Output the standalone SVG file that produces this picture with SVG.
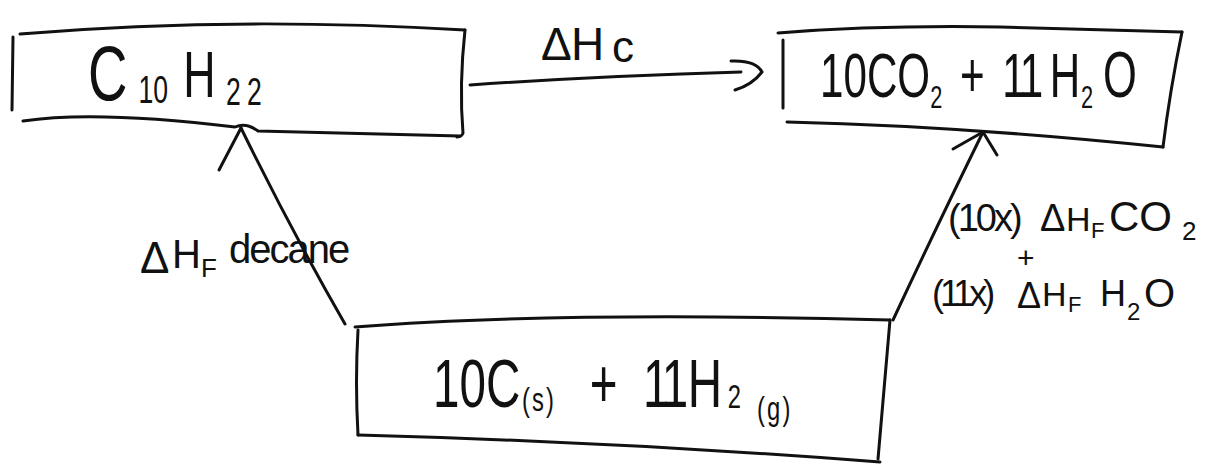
<svg xmlns="http://www.w3.org/2000/svg" width="1207" height="466" viewBox="0 0 1207 466">
  <style>
    .ink { fill: none; stroke: #111; stroke-width: 3; stroke-linecap: round; stroke-linejoin: round; }
    .lbl { font-family: "Liberation Sans", Arial, sans-serif; fill: #111; }
  </style>
  <rect x="0" y="0" width="1207" height="466" fill="#ffffff"/>

  <g id="connectors">
    <g id="edge-combustion">
      <path class="ink" d="M470,85 Q600,76 741,72"/>
      <path class="ink" d="M731,61 Q756,60 762,72 Q752,85 735,90"/>
      <text class="lbl" y="60" font-size="46"><tspan x="541">Δ</tspan><tspan x="571">H</tspan><tspan x="612" y="62" font-size="44">c</tspan></text>
    </g>
    <g id="edge-formation-decane">
      <path class="ink" d="M345,324 Q292,232 241,128"/>
      <path class="ink" d="M241,128 L219,170"/>
      <text class="lbl" font-size="40"><tspan x="140" y="273" font-size="44">Δ</tspan><tspan x="172" y="268">H</tspan><tspan x="201" y="277" font-size="26">F </tspan><tspan x="229" y="263" letter-spacing="-2">decane</tspan></text>
    </g>
    <g id="edge-formation-products">
      <path class="ink" d="M893,320 Q935,230 983,132"/>
      <path class="ink" d="M953,149 L983,132 L997,155"/>
      <text class="lbl" font-size="38"><tspan x="948" y="231" letter-spacing="-3">(10x) </tspan><tspan x="1040" y="231">Δ</tspan><tspan x="1066" y="231" font-size="34">H</tspan><tspan x="1091" y="238" font-size="22">F </tspan><tspan x="1109" y="231" font-size="42">CO</tspan><tspan x="1182" y="240" font-size="26">2</tspan></text>
      <text class="lbl" x="1017" y="268" font-size="30">+</text>
      <text class="lbl" font-size="36"><tspan x="932" y="306" letter-spacing="-4">(11x) </tspan><tspan x="1017" y="308">Δ</tspan><tspan x="1042" y="306" font-size="34">H</tspan><tspan x="1068" y="312" font-size="22">F </tspan><tspan x="1100" y="306">H</tspan><tspan x="1127" y="320" font-size="24">2</tspan><tspan x="1144" y="307" font-size="40">O</tspan></text>
    </g>
  </g>

  <g id="node-decane">
    <path class="ink" d="M20,34 Q230,16 465,30"/>
    <path class="ink" d="M13,37 L12,110"/>
    <path class="ink" d="M465,30 Q459,85 463,133 Q462,137 457,137"/>
    <path class="ink" d="M23,121 Q95,110 235,127 Q246,122 258,131 L460,136"/>
    <text class="lbl" transform="translate(88,100) scale(0.7,1)"><tspan x="0" y="0" font-size="78">C</tspan><tspan x="72" y="3" font-size="38">10</tspan><tspan x="136" y="-3" font-size="64">H</tspan><tspan x="197" y="5" font-size="38" letter-spacing="9">22</tspan></text>
  </g>

  <g id="node-products">
    <path class="ink" d="M778,33 Q880,25 1000,27 L1182,32"/>
    <path class="ink" d="M783,40 L783,108"/>
    <path class="ink" d="M1182,32 Q1170,90 1163,147"/>
    <path class="ink" d="M787,122 Q960,126 1163,147"/>
    <text class="lbl" transform="translate(820,97) scale(0.68,1)" font-size="62"><tspan x="0" y="0">10CO</tspan><tspan x="162" y="11" font-size="32">2 </tspan><tspan x="206" y="0">+ </tspan><tspan x="268" y="0" letter-spacing="-4">11</tspan><tspan x="338" y="0">H</tspan><tspan x="384" y="11" font-size="32">2</tspan><tspan x="416" y="0" font-size="64">O</tspan></text>
  </g>

  <g id="node-elements">
    <path class="ink" d="M355,327 Q560,311 890,320"/>
    <path class="ink" d="M358,330 Q355,382 358,435"/>
    <path class="ink" d="M890,320 L878,459"/>
    <path class="ink" d="M358,435 Q620,442 880,462"/>
    <text class="lbl" transform="translate(433,407) scale(0.7,1)" font-size="68"><tspan x="0" y="0">10C</tspan><tspan x="127" y="4" font-size="34" letter-spacing="3">(s) </tspan><tspan x="224" y="0">+ </tspan><tspan x="300" y="0" letter-spacing="-6">11</tspan><tspan x="364" y="0">H</tspan><tspan x="421" y="1" font-size="34">2</tspan><tspan x="463" y="13" font-size="34" letter-spacing="3">(g)</tspan></text>
  </g>
</svg>
